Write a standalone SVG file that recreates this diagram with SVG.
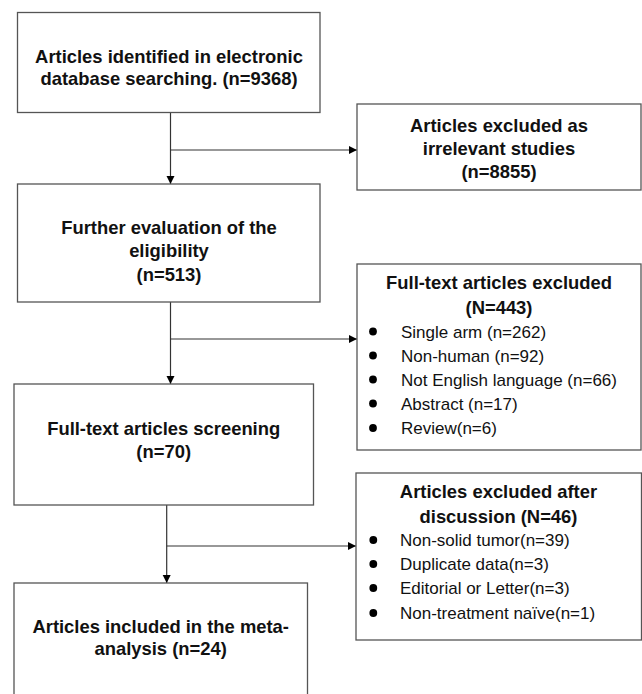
<svg xmlns="http://www.w3.org/2000/svg" width="642" height="694" viewBox="0 0 642 694">
  <style>
    .box { fill: #ffffff; stroke: #555555; stroke-width: 1.3; }
    .conn { fill: none; stroke: #333333; stroke-width: 1.2; }
    .t { font-family: "Liberation Sans", Arial, sans-serif; font-weight: bold; font-size: 18.4px; fill: #111111; text-anchor: middle; }
    .b { font-family: "Liberation Sans", Arial, sans-serif; font-size: 17px; fill: #111111; }
    .dot { fill: #000000; }
  </style>
  <defs>
    <marker id="arrow" markerUnits="userSpaceOnUse" markerWidth="9" markerHeight="9" refX="8" refY="4" orient="auto">
      <path d="M0,0 L8,4 L0,8 Z" fill="#000000"/>
    </marker>
  </defs>
  <rect width="642" height="694" fill="#ffffff"/>

  <g id="connectors">
    <line class="conn" x1="170.5" y1="112.5" x2="170.5" y2="184" marker-end="url(#arrow)"/>
    <line class="conn" x1="170.5" y1="150" x2="357" y2="150" marker-end="url(#arrow)"/>
    <line class="conn" x1="170.5" y1="302" x2="170.5" y2="384" marker-end="url(#arrow)"/>
    <line class="conn" x1="170.5" y1="339" x2="357" y2="339" marker-end="url(#arrow)"/>
    <line class="conn" x1="166.7" y1="505" x2="166.7" y2="583" marker-end="url(#arrow)"/>
    <line class="conn" x1="166.7" y1="546" x2="356" y2="546" marker-end="url(#arrow)"/>
  </g>

  <g id="identified">
    <rect class="box" x="17.5" y="12.5" width="302.5" height="100"/>
    <text class="t" x="169" y="63">Articles identified in electronic</text>
    <text class="t" x="169" y="85">database searching. (n=9368)</text>
  </g>

  <g id="excluded-irrelevant">
    <rect class="box" x="357" y="104" width="284" height="86"/>
    <text class="t" x="499" y="131.5">Articles excluded as</text>
    <text class="t" x="499" y="154.5">irrelevant studies</text>
    <text class="t" x="499" y="177.5">(n=8855)</text>
  </g>

  <g id="eligibility">
    <rect class="box" x="17.5" y="184" width="302.5" height="118"/>
    <text class="t" x="169" y="233.5">Further evaluation of the</text>
    <text class="t" x="169" y="256.5">eligibility</text>
    <text class="t" x="169" y="281">(n=513)</text>
  </g>

  <g id="fulltext-excluded">
    <rect class="box" x="357" y="264" width="284" height="186"/>
    <text class="t" x="499" y="288.5">Full-text articles excluded</text>
    <text class="t" x="499" y="313.5">(N=443)</text>
    <circle class="dot" cx="373" cy="331.5" r="3.9"/>
    <text class="b" x="401" y="337.5">Single arm (n=262)</text>
    <circle class="dot" cx="373" cy="355.5" r="3.9"/>
    <text class="b" x="401" y="361.5">Non-human (n=92)</text>
    <circle class="dot" cx="373" cy="379.5" r="3.9"/>
    <text class="b" x="401" y="385.5">Not English language (n=66)</text>
    <circle class="dot" cx="373" cy="403.5" r="3.9"/>
    <text class="b" x="401" y="409.5">Abstract (n=17)</text>
    <circle class="dot" cx="373" cy="428" r="3.9"/>
    <text class="b" x="401" y="434">Review(n=6)</text>
  </g>

  <g id="screening">
    <rect class="box" x="14" y="384" width="299.5" height="121"/>
    <text class="t" x="163.7" y="434.5">Full-text articles screening</text>
    <text class="t" x="163.7" y="458">(n=70)</text>
  </g>

  <g id="excluded-discussion">
    <rect class="box" x="356" y="473" width="285.5" height="167"/>
    <text class="t" x="498.5" y="497.5">Articles excluded after</text>
    <text class="t" x="498.5" y="522.5">discussion (N=46)</text>
    <circle class="dot" cx="373.3" cy="540" r="3.9"/>
    <text class="b" x="400" y="546">Non-solid tumor(n=39)</text>
    <circle class="dot" cx="373.3" cy="564" r="3.9"/>
    <text class="b" x="400" y="570">Duplicate data(n=3)</text>
    <circle class="dot" cx="373.3" cy="588" r="3.9"/>
    <text class="b" x="400" y="594">Editorial or Letter(n=3)</text>
    <circle class="dot" cx="373.3" cy="613" r="3.9"/>
    <text class="b" x="400" y="619">Non-treatment naïve(n=1)</text>
  </g>

  <g id="included">
    <rect class="box" x="14" y="583" width="293.5" height="120"/>
    <text class="t" x="160.7" y="633">Articles included in the meta-</text>
    <text class="t" x="160.7" y="655">analysis (n=24)</text>
  </g>
</svg>
